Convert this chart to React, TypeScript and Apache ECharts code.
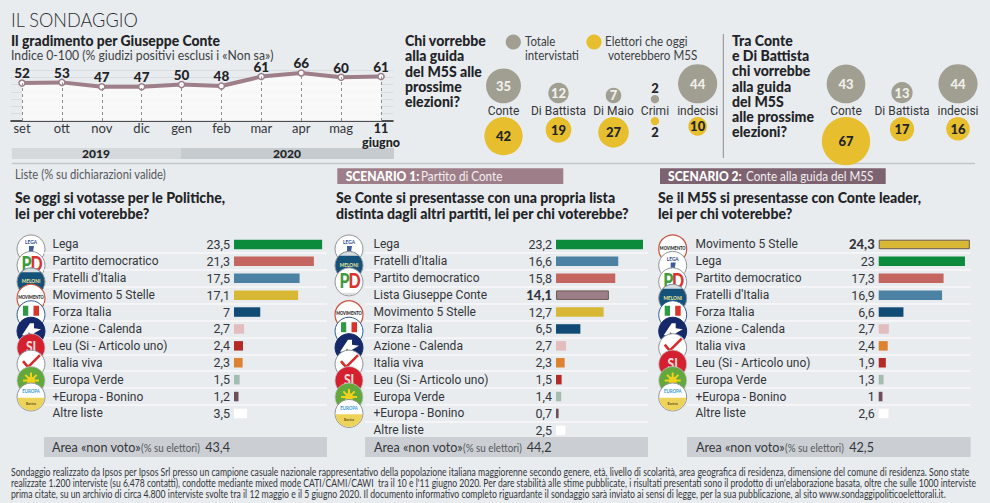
import React, { useEffect, useRef } from "react";
import * as echarts from "echarts";

const months = ["set", "ott", "nov", "dic", "gen", "feb", "mar", "apr", "mag", "11\ngiugno"];
const approval = [52, 53, 47, 47, 50, 48, 61, 66, 60, 61];

const bubbleNamesA = ["Conte", "Di Battista", "Di Maio"];
const bubbleTotalA = [35, 12, 7];
const bubbleM5SA = [42, 19, 27];
const bubbleNamesB = ["Crimi", "indecisi"];
const bubbleTotalB = [2, 44];
const bubbleM5SB = [2, 10];
const bubbleNamesC = ["Conte", "Di Battista", "indecisi"];
const bubbleTotalC = [43, 13, 44];
const bubbleM5SC = [67, 17, 16];

const partiesPolitiche = ["Lega", "Partito democratico", "Fratelli d'Italia", "Movimento 5 Stelle", "Forza Italia", "Azione - Calenda", "Leu (Si - Articolo uno)", "Italia viva", "Europa Verde", "+Europa - Bonino", "Altre liste"];
const valuesPolitiche = [23.5, 21.3, 17.5, 17.1, 7, 2.7, 2.4, 2.3, 1.5, 1.2, 3.5];
const partiesScenario1 = ["Lega", "Fratelli d'Italia", "Partito democratico", "Lista Giuseppe Conte", "Movimento 5 Stelle", "Forza Italia", "Azione - Calenda", "Italia viva", "Leu (Si - Articolo uno)", "Europa Verde", "+Europa - Bonino", "Altre liste"];
const valuesScenario1 = [23.2, 16.6, 15.8, 14.1, 12.7, 6.5, 2.7, 2.3, 1.5, 1.4, 0.7, 2.5];
const partiesScenario2 = ["Movimento 5 Stelle", "Lega", "Partito democratico", "Fratelli d'Italia", "Forza Italia", "Azione - Calenda", "Italia viva", "Leu (Si - Articolo uno)", "Europa Verde", "+Europa - Bonino", "Altre liste"];
const valuesScenario2 = [24.3, 23, 17.3, 16.9, 6.6, 2.7, 2.4, 1.9, 1.3, 1, 2.6];

const partyColors: Record<string, string> = {
  "Lega": "#0B8B3B",
  "Partito democratico": "#C4655F",
  "Fratelli d'Italia": "#4B82A4",
  "Movimento 5 Stelle": "#D8B735",
  "Forza Italia": "#0F4B74",
  "Azione - Calenda": "#E3BCBE",
  "Leu (Si - Articolo uno)": "#B22B27",
  "Italia viva": "#DC8230",
  "Europa Verde": "#A4BDB0",
  "+Europa - Bonino": "#6D4F59",
  "Altre liste": "#FFFFFF",
  "Lista Giuseppe Conte": "#9C7E88",
};

const FONT = "Lato, sans-serif";
const NARROW = "Roboto, sans-serif";
const BG = "#E9ECEF";
const INK = "#222427";
const GREY = "#A09F92";
const YELLOW = "#E6BE2E";
const MAUVE = "#9E7F89";

const fmt = (v: number) => String(v).replace(".", ",");

const T = (text: string, x: number, y: number, font: string, o: any = {}) => ({
  type: "text",
  x,
  y,
  scaleX: o.sx ?? 1,
  silent: true,
  style: {
    text,
    font,
    fill: o.fill ?? INK,
    textAlign: o.align ?? "left",
    textVerticalAlign: "middle",
    lineHeight: o.lh,
  },
});
const box = (x: number, y: number, w: number, h: number, fill: string) => ({
  type: "rect", silent: true, shape: { x, y, width: w, height: h }, style: { fill },
});

function logo(name: string, x: number, y: number) {
  const rim = { fill: "#FFFFFF", stroke: "#8F9499", lineWidth: 1 };
  const children: any[] = [];
  const c = (style: any) => children.push({ type: "circle", shape: { cx: 0, cy: 0, r: 14 }, style });
  const chord = (fill: string, from: number, to: number) => {
    const pts: number[][] = [];
    for (let i = 0; i <= 24; i++) {
      const a = (from + ((to - from) * i) / 24) * Math.PI;
      pts.push([13.5 * Math.cos(a), 13.5 * Math.sin(a)]);
    }
    children.push({ type: "polygon", shape: { points: pts }, style: { fill } });
  };
  const t = (s: string, tx: number, ty: number, font: string, fill: string) =>
    children.push({ type: "text", x: tx, y: ty, scaleX: 0.8, style: { text: s, font, fill, textAlign: "center", textVerticalAlign: "middle" } });
  if (name === "Lega") {
    c(rim);
    t("LEGA", 0, -7, `bold 6px ${FONT}`, "#2C4A8C");
    children.push({ type: "polygon", shape: { points: [[-2, -3], [3, -3], [2, 3], [6, 9], [-5, 9], [-2, 3]] }, style: { fill: "#3D5C9C" } });
  } else if (name === "Partito democratico") {
    c(rim);
    t("P", -4.5, -2, `900 20px ${FONT}`, "#3E9B3F");
    t("D", 5.5, -2, `900 20px ${FONT}`, "#D8342C");
    chord("#DCDFDF", 0.3, 0.7);
  } else if (name === "Fratelli d'Italia") {
    c({ fill: "#15527A", stroke: "#8F9499", lineWidth: 1 });
    chord("#D8DEE0", 1.25, 1.75);
    t("MELONI", 0, -1, `bold 6px ${FONT}`, "#F1E79A");
  } else if (name === "Movimento 5 Stelle") {
    c({ fill: "#FFFFFF", stroke: "#C9533F", lineWidth: 1.2 });
    chord("#EFD98A", 0.15, 0.85);
    t("MOVIMENTO", 0, -1, `900 5px ${FONT}`, "#1E1E1E");
  } else if (name === "Forza Italia") {
    c({ fill: "#FFFFFF", stroke: "#2C5F96", lineWidth: 1 });
    chord("#2F6AA8", 0.2, 0.8);
    children.push(box(-8, -9, 5.5, 10, "#2F9A46"), box(-2.5, -9, 5, 10, "#FFFFFF"), box(2.5, -9, 5.5, 10, "#D8342C"));
  } else if (name === "Azione - Calenda") {
    c({ fill: "#14286A", stroke: "#14286A", lineWidth: 1 });
    children.push({ type: "polygon", shape: { points: [[-9, 4], [-1, -8], [3, -8], [3, -3], [10, -2], [3, 2], [3, 8], [-2, 1], [-4, 4]] }, style: { fill: "#FFFFFF" } });
  } else if (name === "Leu (Si - Articolo uno)") {
    c({ fill: "#D4202F", stroke: "#C0C3C6", lineWidth: 0.8 });
    t("SI", 0, -1, `900 15px ${FONT}`, "#F3D9D6");
  } else if (name === "Italia viva") {
    c(rim);
    children.push({ type: "polyline", shape: { points: [[-8, -3], [-3, 3], [9, -9]] }, style: { stroke: "#D62C2C", lineWidth: 2.6, fill: "none" } });
    t("ITALIA VIVA", 0, 7, `bold 4.5px ${FONT}`, "#5E6FB8");
  } else if (name === "Europa Verde") {
    c({ fill: "#63A83C", stroke: "#C0C3C6", lineWidth: 0.8 });
    children.push({ type: "circle", shape: { cx: 0, cy: 0, r: 4 }, style: { fill: "#F0D21C" } });
    for (let i = 0; i < 8; i++) {
      const a = (i * Math.PI) / 4;
      children.push({ type: "line", shape: { x1: 0, y1: 0, x2: 8 * Math.cos(a), y2: 8 * Math.sin(a) }, style: { stroke: "#F0D21C", lineWidth: 2 } });
    }
  } else if (name === "+Europa - Bonino") {
    c(rim);
    chord("#EED35A", 0.02, 0.98);
    t("EUROPA", 0, -6, `bold 5.5px ${FONT}`, "#3A9AD0");
    t("Bonino", 0, 6, `bold 4px ${FONT}`, "#5E5320");
  }
  return { type: "group", x, y, silent: true, children };
}

const ROW_TOP = 236;
const ROW_H = 16.9;
const PX = 3.75;

function barPanel(i: number, parties: string[], values: number[], left: number, zero: number, right: number, bold: string | null, logoX: number) {
  const rows = parties.length;
  const grid = { left, top: ROW_TOP, width: right - left, height: ROW_H * rows };
  const xAxis = { gridIndex: i, type: "value", show: false, min: -(zero - left) / PX, max: (right - zero) / PX };
  const yAxis = {
    gridIndex: i, type: "category", inverse: true, data: parties,
    axisLine: { show: false, onZero: false }, axisTick: { show: false },
    axisLabel: { inside: true, margin: 8.5, interval: 0, color: "#33363A", fontFamily: NARROW, fontSize: 12 },
    splitLine: { show: true, interval: 0, showMinLine: false, showMaxLine: false, lineStyle: { color: "#F8F9FA", width: 1.5 } },
  };
  const series = {
    type: "bar", xAxisIndex: i, yAxisIndex: i, barWidth: 9.5, silent: true,
    data: values.map((v, k) => ({
      value: v,
      itemStyle: parties[k] === bold
        ? { color: partyColors[parties[k]], borderColor: "#6B5A50", borderWidth: 1 }
        : { color: partyColors[parties[k]] },
      label: parties[k] === bold ? { fontWeight: 900, fontFamily: FONT, fontSize: 13 } : {},
    })),
    label: { show: true, position: "left", distance: 4, color: "#33363A", fontFamily: NARROW, fontSize: 12.5, formatter: (p: any) => fmt(p.value) },
  };
  const logos = parties
    .map((p, k) => (p === "Altre liste" || p === "Lista Giuseppe Conte" ? null : logo(p, logoX, ROW_TOP + ROW_H * (k + 0.5) + 4.5 - 0.45 * k)))
    .filter(Boolean);
  return { grid, xAxis, yAxis, series, logos };
}

function bubblePanel(i: number, names: string[], total: number[], m5s: number[], left: number, width: number) {
  const size = (v: number) => 5.9 * Math.sqrt(v);
  const grid = { left, top: 103.3, width, height: 13.7 };
  const xAxis = {
    gridIndex: i, type: "category", data: names,
    axisLine: { show: false }, axisTick: { show: false },
    axisLabel: { inside: true, margin: 0, interval: 0, color: "#33363A", fontFamily: NARROW, fontSize: 12 },
  };
  const yAxis = { gridIndex: i, type: "category", show: false, inverse: true, boundaryGap: false, data: ["Totale", "Elettori"] };
  const mk = (vals: number[], row: number, color: string, labelColor: string, dir: number) => ({
    type: "scatter", xAxisIndex: i, yAxisIndex: i, silent: true, clip: false, symbol: "circle",
    itemStyle: { color, opacity: 1 },
    data: vals.map((v, k) => {
      const s = size(v);
      return {
        value: [k, row, v],
        symbolSize: s,
        symbolOffset: [0, (dir * s) / 2],
        label: {
          show: true,
          position: v < 5 ? (dir < 0 ? "top" : "bottom") : "inside",
          distance: 0,
          color: v < 5 ? INK : labelColor,
          fontFamily: FONT, fontWeight: 900, fontSize: 13,
          formatter: String(v),
        },
      };
    }),
  });
  return { grid, xAxis, yAxis, series: [mk(total, 0, GREY, "#F1F0EA", -1), mk(m5s, 1, YELLOW, INK, 1)] };
}

const footer = [
  "Sondaggio realizzato da Ipsos per Ipsos Srl presso un campione casuale nazionale rappresentativo della popolazione italiana maggiorenne secondo genere, età, livello di scolarità, area geografica di residenza, dimensione del comune di residenza. Sono state",
  "realizzate 1.200 interviste (su 6.478 contatti), condotte mediante mixed mode CATI/CAMI/CAWI  tra il 10 e l'11 giugno 2020. Per dare stabilità alle stime pubblicate, i risultati presentati sono il prodotto di un'elaborazione basata, oltre che sulle 1000 interviste",
  "prima citate, su un archivio di circa 4.800 interviste svolte tra il 12 maggio e il 5 giugno 2020. Il documento informativo completo riguardante il sondaggio sarà inviato ai sensi di legge, per la sua pubblicazione, al sito www.sondaggipoliticoelettorali.it.",
];
const footerFit = [0.826, 0.817, 0.824];

function nonVoto(left: number, right: number, textX: number, valueRight: number, value: string) {
  return [
    box(left, 437, right - left, 20, "#CBCFD3"),
    T("Area «non voto»", textX, 447, `14px ${FONT}`, { sx: 0.9, fill: "#33363A" }),
    T("(% su elettori)", textX + 89, 447, `12px ${FONT}`, { sx: 0.82, fill: "#55585C" }),
    T(value, valueRight, 447, `14px ${FONT}`, { align: "right", sx: 0.9, fill: "#33363A" }),
  ];
}

export default function App() {
  const ref = useRef<HTMLDivElement>(null);
  useEffect(() => {
    document.body.style.margin = "0";
    const chart = echarts.init(ref.current!, undefined, { renderer: "svg" });

    const b0 = barPanel(2, partiesPolitiche, valuesPolitiche, 44, 234, 327, null, 31);
    const b1 = barPanel(3, partiesScenario1, valuesScenario1, 365, 556, 648, "Lista Giuseppe Conte", 349);
    const b2 = barPanel(4, partiesScenario2, valuesScenario2, 687, 878.7, 970.6, "Movimento 5 Stelle", 672.7);
    const p0 = bubblePanel(5, bubbleNamesA, bubbleTotalA, bubbleM5SA, 476, 165);
    const p1 = bubblePanel(6, bubbleNamesB, bubbleTotalB, bubbleM5SB, 633.6, 85.4);
    const p2 = bubblePanel(7, bubbleNamesC, bubbleTotalC, bubbleM5SC, 818, 168);

    chart.setOption({
      animation: false,
      backgroundColor: BG,
      textStyle: { fontFamily: FONT },
      grid: [
        { left: 11, top: 70, width: 382, height: 51 },
        { left: 22, top: 70, width: 359, height: 51 },
        b0.grid, b1.grid, b2.grid, p0.grid, p1.grid, p2.grid,
      ],
      xAxis: [
        {
          gridIndex: 0, type: "category", data: months, boundaryGap: false,
          axisTick: { show: false }, axisLabel: { show: false },
          axisLine: { show: true, lineStyle: { color: "#1E1F22", width: 1.6 } },
        },
        {
          gridIndex: 1, type: "category", data: months.map((m, i) => i === months.length - 1 ? { value: m, textStyle: { fontWeight: 900, color: INK, lineHeight: 14, fontSize: 12.5 } } : m),
          boundaryGap: false,
          axisLine: { show: false }, axisTick: { show: false },
          axisLabel: { interval: 0, margin: 0, color: "#33363A", fontFamily: FONT, fontSize: 13, lineHeight: 14, verticalAlign: "top" },
        },
        b0.xAxis, b1.xAxis, b2.xAxis, p0.xAxis, p1.xAxis, p2.xAxis,
      ],
      yAxis: [
        {
          gridIndex: 0, type: "value", min: 0, max: 70, interval: 10,
          axisLabel: { show: false }, axisLine: { show: false }, axisTick: { show: false },
          splitLine: { show: true, lineStyle: { color: "#DADDE0", width: 1 } },
        },
        { gridIndex: 1, type: "value", min: 0, max: 70, interval: 10, show: false, splitLine: { show: false } },
        b0.yAxis, b1.yAxis, b2.yAxis, p0.yAxis, p1.yAxis, p2.yAxis,
      ],
      series: [
        {
          type: "line", xAxisIndex: 1, yAxisIndex: 1, data: approval, silent: true,
          symbol: "circle", symbolSize: 6, showAllSymbols: true,
          lineStyle: { color: MAUVE, width: 4 },
          itemStyle: { color: "#FFFFFF", borderColor: MAUVE, borderWidth: 1.5 },
          areaStyle: { color: "#FBFBFC", opacity: 0.85 },
          label: { show: true, position: "top", distance: -1, color: INK, fontFamily: FONT, fontWeight: 900, fontSize: 13.5 },
          markLine: {
            silent: true, symbol: "none", label: { show: false }, animation: false,
            lineStyle: { color: "#8D8E90", type: [3, 3], width: 1 },
            data: approval.map((v, i) => [{ coord: [i, 0] }, { coord: [i, v] }]),
          },
        },
        {
          type: "scatter", xAxisIndex: 1, yAxisIndex: 1, silent: true, symbol: "circle", symbolSize: 5,
          itemStyle: { color: "#FFFFFF", borderColor: "#232325", borderWidth: 1.8, opacity: 1 },
          data: [[approval.length - 1, approval[approval.length - 1]]],
        },
        b0.series, b1.series, b2.series, ...p0.series, ...p1.series, ...p2.series,
      ],
      graphic: [
        T("IL SONDAGGIO", 11, 19.5, `300 19.5px ${FONT}`, { sx: 0.93, fill: "#2A2C2F" }),
        T("Il gradimento per Giuseppe Conte", 11, 40, `900 15px ${FONT}`, { sx: 0.93 }),
        T("Indice 0-100 (% giudizi positivi esclusi i «Non sa»)", 11, 55, `13px ${FONT}`, { sx: 0.94, fill: "#3C3F43" }),
        box(11.7, 148, 169.3, 11, "#D5D9DC"),
        box(181, 148, 213, 11, "#C6CBCF"),
        T("2019", 96, 153.5, `900 12px ${FONT}`, { align: "center" }),
        T("2020", 287, 153.5, `900 12px ${FONT}`, { align: "center" }),
        { type: "line", silent: true, shape: { x1: 12, y1: 163.5, x2: 975, y2: 163.5 }, style: { stroke: "#C2C6CA", lineWidth: 1.5 } },
        { type: "line", silent: true, shape: { x1: 723.3, y1: 34, x2: 723.3, y2: 158 }, style: { stroke: "#8A8D90", lineWidth: 1 } },
        T("Chi vorrebbe\nalla guida\ndel M5S alle\nprossime\nelezioni?", 405, 71, `900 14.5px ${FONT}`, { lh: 15.4, sx: 0.97 }),
        T("Tra Conte\ne Di Battista\nchi vorrebbe\nalla guida\ndel M5S\nalle prossime\nelezioni?", 732, 86, `900 14.5px ${FONT}`, { lh: 15.3, sx: 0.97 }),
        { type: "circle", silent: true, shape: { cx: 513.3, cy: 42, r: 7.6 }, style: { fill: GREY } },
        { type: "circle", silent: true, shape: { cx: 594, cy: 42, r: 7.6 }, style: { fill: YELLOW } },
        T("Totale\nintervistati", 525, 48.3, `12.5px ${FONT}`, { lh: 13.5, sx: 0.92, fill: "#3C3F43" }),
        T("Elettori che oggi", 605, 41.7, `12.5px ${FONT}`, { sx: 0.93, fill: "#3C3F43" }),
        T("voterebbero M5S", 608, 55, `12.5px ${FONT}`, { sx: 0.93, fill: "#3C3F43" }),
        T("Liste (% su dichiarazioni valide)", 15, 174, `12.5px ${FONT}`, { sx: 0.9, fill: "#55585C" }),
        box(337.3, 168.3, 226, 15.7, MAUVE),
        T("SCENARIO 1:", 345.7, 176.5, `900 13px ${FONT}`, { sx: 0.93, fill: "#FFFFFF" }),
        T("Partito di Conte", 421, 176.5, `13px ${FONT}`, { sx: 0.9, fill: "#F3EEF0" }),
        box(660, 168.3, 225.7, 15.7, "#7D6370"),
        T("SCENARIO 2:", 668, 176.5, `900 13px ${FONT}`, { sx: 0.93, fill: "#FFFFFF" }),
        T("Conte alla guida del M5S", 746, 176.5, `13px ${FONT}`, { sx: 0.9, fill: "#F3EEF0" }),
        T("Se oggi si votasse per le Politiche,\nlei per chi voterebbe?", 15, 205.5, `900 15px ${FONT}`, { lh: 15.6, sx: 0.94 }),
        T("Se Conte si presentasse con una propria lista\ndistinta dagli altri partiti, lei per chi voterebbe?", 336, 205.5, `900 15px ${FONT}`, { lh: 15.6, sx: 0.94 }),
        T("Se il M5S si presentasse con Conte leader,\nlei per chi voterebbe?", 658, 205.5, `900 15px ${FONT}`, { lh: 15.6, sx: 0.94 }),
        ...nonVoto(44, 327, 52, 230, "43,4"),
        ...nonVoto(365, 648, 374, 551.5, "44,2"),
        ...nonVoto(687, 970.6, 696, 874, "42,5"),
        ...footer.map((s, i) => T(s, 11, 472 + i * 11, `10.5px ${FONT}`, { sx: footerFit[i], fill: "#33363A" })),
        ...b0.logos, ...b1.logos, ...b2.logos,
      ],
    });
    return () => chart.dispose();
  }, []);
  return <div ref={ref} style={{ width: 990, height: 503 }} />;
}
